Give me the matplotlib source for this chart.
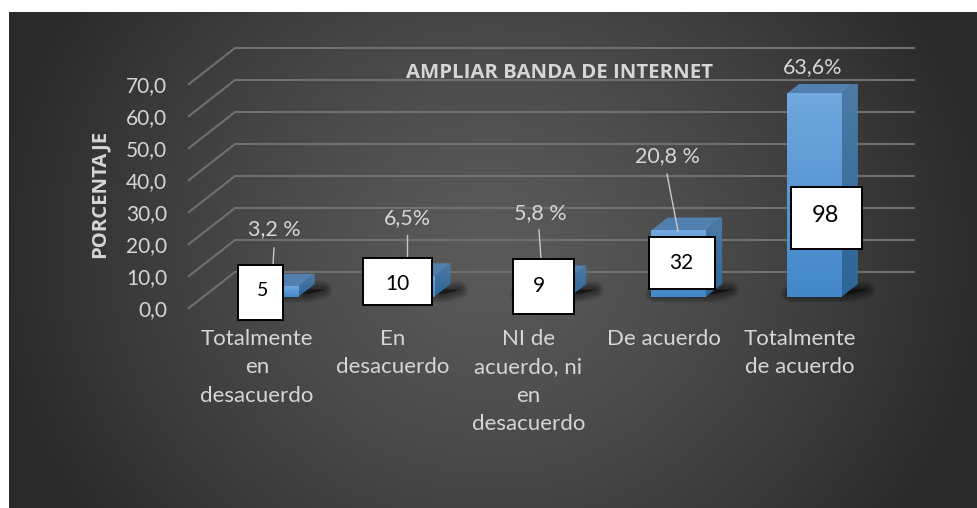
import numpy as np
import matplotlib
matplotlib.use("Agg")
import matplotlib.pyplot as plt
from matplotlib.patches import Polygon, Rectangle
from matplotlib.colors import LinearSegmentedColormap

# ---- data ----
categories = ["Totalmente\nen\ndesacuerdo", "En\ndesacuerdo",
              "NI de\nacuerdo, ni\nen\ndesacuerdo", "De acuerdo",
              "Totalmente\nde acuerdo"]
percentages = [3.2, 6.5, 5.8, 20.8, 63.6]
percent_labels = ["3,2 %", "6,5%", "5,8 %", "20,8 %", "63,6%"]
counts = [5, 10, 9, 32, 98]
y_ticks = [0, 10, 20, 30, 40, 50, 60, 70]
y_tick_labels = ["0,0", "10,0", "20,0", "30,0", "40,0", "50,0", "60,0", "70,0"]
title = "AMPLIAR BANDA DE INTERNET"
y_title = "PORCENTAJE"

# ---- layout (pixels of the 977x508 canvas) ----
W, H = 977, 508
AX_L, AX_R, AX_T, AX_B = 189, 868, 84, 308
PX_X = (AX_R - AX_L) / 5
PX_Y = (AX_B - AX_T) / 70
DX, DY = 46 / PX_X, 36 / PX_Y      # depth vector of the 3D floor
D0, D1 = 11 / 36, 24 / 36          # front and back of the columns
HALF = 0.2

def px(x, y):
    return (x - AX_L) / PX_X - 0.5, (AX_B - y) / PX_Y

def proj(x, y, d):
    return x + d * DX, y + d * DY

plt.rcParams["font.family"] = ["Lato", "DejaVu Sans"]
TXT = "#d6d6d6"
BOLD = ["Open Sans", "DejaVu Sans"]
fig = plt.figure(figsize=(W / 100, H / 100), dpi=100, facecolor="white")

# background gradient
bg = fig.add_axes([0, 0, 1, 1], zorder=0)
yy, xx = np.mgrid[0:H, 0:W]
t = np.sqrt(((xx - 490) / 500.0) ** 2 + ((yy - 250) / 460.0) ** 2)
v = np.clip(0x5a - (0x5a - 0x2a) * np.clip(t, 0, 1) ** 1.3, 0, 255) / 255
img = np.dstack([v, v, v])
img[:12, :] = 1
img[:, :9] = 1
bg.imshow(img, extent=(0, W, H, 0), aspect="auto", interpolation="bilinear")
bg.axis("off")

ax = fig.add_axes([AX_L / W, 1 - AX_B / H, (AX_R - AX_L) / W, (AX_B - AX_T) / H], zorder=1)
ax.patch.set_alpha(0)
x_pos = np.arange(len(categories))

# grid: floor/side wall + back wall
for val in y_ticks:
    a = proj(-0.5, val, 0)
    b = proj(-0.5, val, 1)
    c = proj(4.5, val, 1)
    ax.plot([a[0], b[0], c[0]], [a[1], b[1], c[1]], color="#707070", lw=1.5,
            clip_on=False, zorder=1, solid_joinstyle="miter")

front_cm = LinearSegmentedColormap.from_list("f", ["#4388c9", "#70a7de"])
side_cm = LinearSegmentedColormap.from_list("s", ["#2d6596", "#4d7ba6"])

for i, val in zip(x_pos, percentages):
    x0, x1 = i - HALF, i + HALF
    fl = proj(x0, 0, D0); fr = proj(x1, 0, D0)
    br = proj(x1, 0, D1)
    # soft shadow on the floor
    dm = D0 + (D1 - D0) * 0.55
    s = 10 / PX_X
    foot = [(fl[0] + s * 0.3, fl[1] + 1), (fr[0] + s, fr[1] + 1),
            (proj(x1, 0, dm)[0] + s * 1.6, proj(x1, 0, dm)[1]),
            (proj(x0, 0, dm)[0] + s, proj(x0, 0, dm)[1])]
    for lw in np.linspace(13, 1, 10):
        ax.add_patch(Polygon(foot, closed=True, facecolor="#000000", edgecolor="#000000",
                             lw=lw, alpha=0.055, joinstyle="round", zorder=2, clip_on=False))
    # front face
    ftop = proj(x0, val, D0)[1]
    ax.imshow(np.linspace(1, 0, 64).reshape(-1, 1), cmap=front_cm, vmin=0, vmax=1,
              extent=(fl[0], fr[0], fl[1], ftop), aspect="auto", zorder=4, clip_on=False)
    # right face
    side = [proj(x1, 0, D0), proj(x1, 0, D1), proj(x1, val, D1), proj(x1, val, D0)]
    im = ax.imshow(np.linspace(1, 0, 64).reshape(-1, 1), cmap=side_cm, vmin=0, vmax=1,
                   extent=(fr[0], br[0], fr[1], proj(x1, val, D1)[1]),
                   aspect="auto", zorder=3)
    clip = Polygon(side, closed=True, transform=ax.transData, facecolor="none", edgecolor="none")
    ax.add_patch(clip)
    im.set_clip_path(clip)
    # top face
    top = [proj(x0, val, D0), proj(x1, val, D0), proj(x1, val, D1), proj(x0, val, D1)]
    ax.add_patch(Polygon(top, closed=True, facecolor="#527fae", edgecolor="none", zorder=3.5))

# percentage labels + leader lines (pixel placement, as moved by hand in the source)
pct_pos = [(274, 229), (407, 218), (540, 213), (667, 156), (813, 67)]
leaders = [((274, 248), (273, 265)), ((407, 235), (407, 258)),
           ((539, 230), (541, 259)), ((667, 174), (678, 231)), None]
for s_, p, l in zip(percent_labels, pct_pos, leaders):
    ax.text(*px(*p), s_, color=TXT, fontsize=15.5, ha="center", va="center", zorder=8)
    if l:
        p0, p1 = px(*l[0]), px(*l[1])
        ax.plot([p0[0], p1[0]], [p0[1], p1[1]], color="#c8c8c8", lw=1, zorder=5, clip_on=False)

# count boxes
boxes = [(238, 265, 283, 320), (363, 258, 432, 305), (513, 259, 574, 314),
         (649, 237, 715, 289), (791, 187, 862, 249)]
count_pos = [(263, 291), (397, 284), (539, 286), (681, 263), (825, 215)]
sizes = [14, 15, 15, 15, 17]
for n, (l, t_, r, b), p, fs in zip(counts, boxes, count_pos, sizes):
    xa, ya = px(l, b)
    xb, yb = px(r, t_)
    ax.add_patch(Rectangle((xa, ya), xb - xa, yb - ya, facecolor="white", edgecolor="black",
                           lw=1.4, zorder=6, clip_on=False))
    ax.text(*px(*p), str(n), color="black", fontsize=fs, ha="center", va="center", zorder=7)

ax.text(*px(559.5, 73), title, color=TXT, fontsize=14.7, fontweight="bold", family=BOLD,
        ha="center", va="center", zorder=8)

ax.set_xlim(-0.5, 4.5)
ax.set_ylim(0, 70)
ax.set_xticks(x_pos)
ax.set_xticklabels(categories, color=TXT, fontsize=16, linespacing=1.53)
ax.set_yticks(y_ticks)
ax.set_yticklabels(y_tick_labels, color=TXT, fontsize=15)
ax.tick_params(axis="both", length=0)
ax.tick_params(axis="y", pad=15.8)
ax.tick_params(axis="x", pad=15)
for sp in ax.spines.values():
    sp.set_visible(False)
ax.set_ylabel(y_title, color=TXT, fontsize=14.6, fontweight="bold", family=BOLD, labelpad=2)
ax.yaxis.set_label_coords((110 - AX_L) / (AX_R - AX_L), (AX_B - 194) / (AX_B - AX_T))

fig.savefig("out.png", dpi=100, facecolor="white")
